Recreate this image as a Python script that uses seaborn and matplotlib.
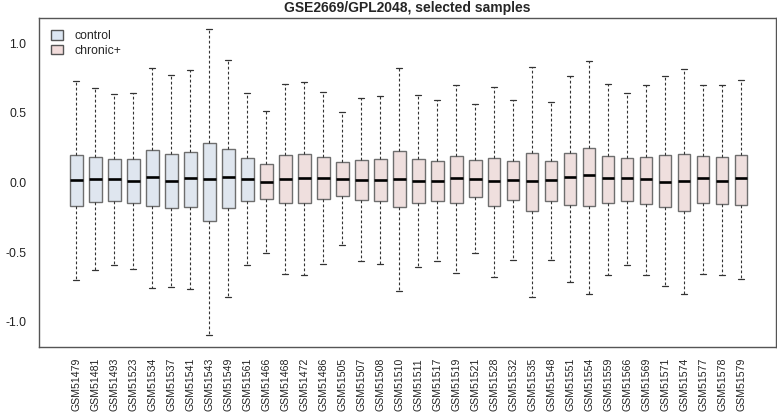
import numpy as np
import pandas as pd
import matplotlib
matplotlib.use("Agg")
import matplotlib.pyplot as plt
from matplotlib.patches import Patch
import seaborn as sns

samples = ["GSM51479", "GSM51481", "GSM51493", "GSM51523", "GSM51534", "GSM51537",
           "GSM51541", "GSM51543", "GSM51549", "GSM51561",
           "GSM51466", "GSM51468", "GSM51472", "GSM51486", "GSM51505", "GSM51507",
           "GSM51508", "GSM51510", "GSM51511", "GSM51517", "GSM51519", "GSM51521",
           "GSM51528", "GSM51532", "GSM51535", "GSM51548", "GSM51551", "GSM51554",
           "GSM51559", "GSM51566", "GSM51569", "GSM51571", "GSM51574", "GSM51577",
           "GSM51578", "GSM51579"]
groups = ["control"] * 10 + ["chronic+"] * 26

# box statistics
whisker_low = [-0.702, -0.630, -0.593, -0.622, -0.760, -0.751, -0.765, -1.095, -0.818, -0.593,
               -0.504, -0.659, -0.666, -0.586, -0.448, -0.562, -0.586, -0.775, -0.605, -0.562,
               -0.647, -0.504, -0.676, -0.555, -0.821, -0.559, -0.717, -0.797, -0.661, -0.591,
               -0.661, -0.746, -0.801, -0.654, -0.663, -0.692]
q1 = [-0.167, -0.140, -0.136, -0.150, -0.167, -0.182, -0.177, -0.274, -0.182, -0.131,
      -0.121, -0.150, -0.145, -0.121, -0.094, -0.123, -0.133, -0.174, -0.148, -0.136,
      -0.145, -0.107, -0.167, -0.126, -0.201, -0.133, -0.165, -0.169, -0.150, -0.133,
      -0.155, -0.179, -0.201, -0.148, -0.157, -0.160]
median = [0.017, 0.027, 0.022, 0.012, 0.041, 0.012, 0.029, 0.022, 0.041, 0.024,
          0.005, 0.027, 0.034, 0.031, 0.027, 0.019, 0.017, 0.024, 0.012, 0.012,
          0.031, 0.024, 0.012, 0.019, 0.010, 0.017, 0.039, 0.053, 0.029, 0.029,
          0.024, 0.007, 0.012, 0.034, 0.012, 0.031]
q3 = [0.194, 0.184, 0.172, 0.167, 0.230, 0.201, 0.220, 0.281, 0.242, 0.174,
      0.131, 0.194, 0.206, 0.186, 0.148, 0.162, 0.165, 0.225, 0.165, 0.155,
      0.191, 0.160, 0.174, 0.157, 0.211, 0.153, 0.211, 0.247, 0.191, 0.174,
      0.186, 0.199, 0.206, 0.191, 0.184, 0.199]
whisker_high = [0.731, 0.677, 0.634, 0.644, 0.823, 0.771, 0.807, 1.101, 0.880, 0.639,
                0.512, 0.710, 0.724, 0.651, 0.509, 0.606, 0.623, 0.818, 0.630, 0.590,
                0.698, 0.564, 0.686, 0.590, 0.825, 0.580, 0.764, 0.870, 0.710, 0.644,
                0.700, 0.766, 0.811, 0.698, 0.698, 0.738]

colors = {"control": "#dce6f2", "chronic+": "#f2dcdb"}

# five points per sample reproduce the quartiles exactly with whis=(0, 100)
rows = []
for i, s in enumerate(samples):
    for v in (whisker_low[i], q1[i], median[i], q3[i], whisker_high[i]):
        rows.append({"sample": s, "group": groups[i], "value": v})
df = pd.DataFrame(rows)

sns.set_style("white")
plt.rcParams["font.family"] = ["Liberation Sans", "DejaVu Sans"]

fig = plt.figure(figsize=(7.77, 4.15), dpi=100)
ax = fig.add_axes([0.0502, 0.1639, 0.9485, 0.7927])

sns.boxplot(data=df, x="sample", y="value", hue="group", order=samples,
            hue_order=["control", "chronic+"], palette=colors, dodge=False,
            width=0.68, whis=(0, 100), linecolor="#6e6e6e", linewidth=1.0,
            legend=False, ax=ax,
            whiskerprops=dict(color="#333333", linestyle=(0, (2.5, 2)), linewidth=0.8),
            capprops=dict(color="#333333", linewidth=0.9),
            medianprops=dict(color="black", linewidth=1.9))

ax.set_xlim(-1.95, 36.84)
ax.set_ylim(-1.18, 1.18)
ax.set_yticks([-1.0, -0.5, 0.0, 0.5, 1.0])
ax.set_yticklabels(["-1.0", "-0.5", "0.0", "0.5", "1.0"], fontsize=8.8)
ax.tick_params(axis="x", labelrotation=90, labelsize=7.6, length=6, width=0.8,
               color="#555555", pad=2, labelcolor="#222222")
ax.tick_params(axis="y", length=6, width=0.8, color="#555555", pad=3, labelcolor="#222222")
ax.set_xlabel("")
ax.set_ylabel("")
for sp in ax.spines.values():
    sp.set_visible(True)
    sp.set_color("#555555")
    sp.set_linewidth(1.0)

ax.set_title("GSE2669/GPL2048, selected samples", fontsize=10, fontweight="bold", pad=4)

handles = [Patch(facecolor=colors[g], edgecolor="#555555", label=g)
           for g in ["control", "chronic+"]]
ax.legend(handles=handles, loc="upper left", frameon=False, fontsize=8.8,
          handlelength=1.0, handleheight=0.8, handletextpad=0.9, labelspacing=0.2,
          bbox_to_anchor=(0.0, 1.0), borderaxespad=0.6)

fig.savefig("out.png", dpi=100)
